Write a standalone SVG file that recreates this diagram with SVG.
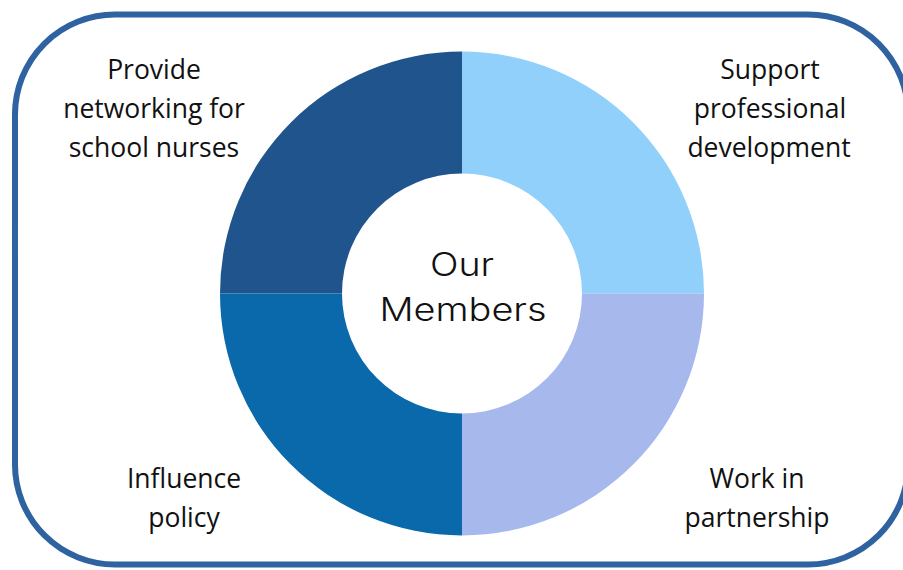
<svg xmlns="http://www.w3.org/2000/svg" width="903" height="570" viewBox="0 0 903 570">
  <style>
    .frame { fill: #ffffff; stroke: #2e62a0; stroke-width: 6; }
    .label { font-family: "Open Sans", "Liberation Sans", sans-serif; font-size: 26.5px; fill: #111111; text-anchor: middle; }
    .hub { font-family: "Inter", "Lato", "Liberation Sans", sans-serif; font-size: 32px; font-weight: 300; fill: #111111; text-anchor: middle; }
  </style>

  <!-- outer rounded frame (right side runs past the canvas edge) -->
  <rect class="frame" x="15" y="14.5" width="893" height="550" rx="100" ry="100"/>

  <!-- donut ring: centre (462,293.5), outer r 242, inner r 120 -->
  <g id="ring">
    <g id="seg-networking">
      <path d="M462 51.5 A242 242 0 0 0 220 293.5 L342 293.5 A120 120 0 0 1 462 173.5 Z" fill="#20548c"/>
    </g>
    <g id="seg-development">
      <path d="M462 51.5 A242 242 0 0 1 704 293.5 L582 293.5 A120 120 0 0 0 462 173.5 Z" fill="#90d0fb"/>
    </g>
    <g id="seg-partnership">
      <path d="M704 293.5 A242 242 0 0 1 462 535.5 L462 413.5 A120 120 0 0 0 582 293.5 Z" fill="#a6b8ec"/>
    </g>
    <g id="seg-policy">
      <path d="M462 535.5 A242 242 0 0 1 220 293.5 L342 293.5 A120 120 0 0 0 462 413.5 Z" fill="#0969aa"/>
    </g>
  </g>

  <g id="hub">
    <text class="hub" x="462" y="276" textLength="64" lengthAdjust="spacingAndGlyphs">Our</text>
    <text class="hub" x="463" y="321" textLength="167" lengthAdjust="spacingAndGlyphs">Members</text>
  </g>

  <g id="label-networking">
    <text class="label" x="154" y="79">Provide</text>
    <text class="label" x="154" y="118">networking for</text>
    <text class="label" x="154" y="157">school nurses</text>
  </g>
  <g id="label-development">
    <text class="label" x="770" y="79">Support</text>
    <text class="label" x="770" y="118">professional</text>
    <text class="label" x="769" y="157">development</text>
  </g>
  <g id="label-policy">
    <text class="label" x="184" y="488">Influence</text>
    <text class="label" x="184" y="527">policy</text>
  </g>
  <g id="label-partnership">
    <text class="label" x="757" y="488">Work in</text>
    <text class="label" x="757" y="527">partnership</text>
  </g>
</svg>
